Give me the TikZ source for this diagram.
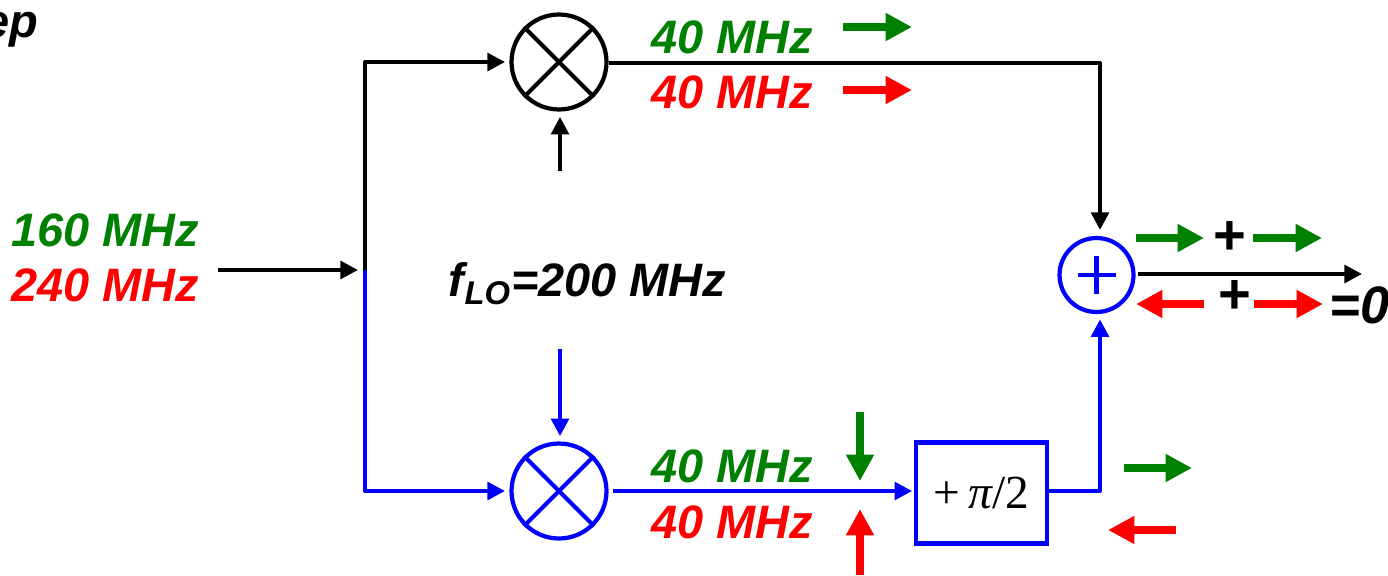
\documentclass[tikz,border=0pt]{standalone}
\usepackage{amsfonts, amssymb, amsmath}
\usepackage{fontspec}
\setmainfont{Liberation Sans}
\newfontfamily\shiftfont{Liberation Serif}
\usetikzlibrary{arrows.meta}

\definecolor{sigreen}{RGB}{0,128,0}
\tikzset{
    sigtext/.style={font=\fontsize{26.7}{30}\selectfont\bfseries\itshape, inner sep=0pt},
    plustext/.style={font=\fontsize{32}{32}\selectfont\bfseries, inner sep=0pt},
    wire/.style={line width=2.3pt, -{Triangle[length=10pt,width=10pt]}},
    blockarrow/.style={line width=4.4pt, -{Triangle[length=15pt,width=15pt]}},
    mixer/.style={circle, draw, line width=2.4pt, minimum size=1.9cm, inner sep=0pt},
}

\begin{document}
\begin{tikzpicture}[x=0.02cm,y=-0.02cm]
    \useasboundingbox (0,0) rectangle (1388,575);

    % mixers, adder and phase shifter
    \node [mixer] (mixa) at (559,62) {};
    \node [mixer, blue] (mixb) at (559,491) {};
    \node [mixer, blue, minimum size=1.48cm] (adder) at (1096.5,275) {};
    \node [draw=blue, line width=2.4pt, minimum width=2.62cm, minimum height=2.02cm, inner sep=0pt] (shift) at (981.5,493)
        {\fontsize{27}{27}\selectfont\shiftfont +\,{\itshape π}/2\hspace{3pt}};
    \draw [line width=2.3pt] (mixa.45) -- (mixa.225) (mixa.135) -- (mixa.315);
    \draw [blue, line width=2.3pt] (mixb.45) -- (mixb.225) (mixb.135) -- (mixb.315);
    \draw [blue, line width=2.6pt] (adder.center) ++(-19,0) -- ++(38,0) (adder.center) ++(0,-19) -- ++(0,38);

    % free ends and corners
    \coordinate (infeed) at (218,270);
    \coordinate (split) at (365,270);
    \coordinate (loup) at (560,171);
    \coordinate (lodown) at (560,349);
    \coordinate (sumout) at (1138,274);
    \coordinate (outend) at (1362,274);
    \coordinate (cornera) at (1100,63);
    \coordinate (cornerb) at (1100,491);

    % black paths
    \draw [wire, shorten >=4pt] (infeed) -- (split);
    \draw [wire, line join=round, shorten >=2.5pt] (split) |- (mixa);
    \draw [wire, shorten >=3pt] (loup) -- (loup |- mixa.south);
    \draw [wire, line join=round, shorten >=3.4pt] (mixa.east |- cornera) -- (cornera) -- (cornera |- adder.north);
    \draw [wire] (sumout) -- (outend);

    % blue paths
    \draw [wire, blue, line join=round, shorten >=2.5pt] (split) |- (mixb);
    \draw [wire, blue, shorten >=3pt] (lodown) -- (lodown |- mixb.north);
    \draw [wire, blue, shorten <=2.5pt, shorten >=1pt] (mixb.east) -- (mixb.east -| shift.west);
    \draw [wire, blue, line join=round, shorten >=3pt] (shift.east |- cornerb) -- (cornerb) -- (cornerb |- adder.south);

    % frequency labels
    \node [sigtext, anchor=east] (stepname) at (39,30) {ep};
    \node [sigtext, sigreen] (insig) at (105,230) {160 MHz};
    \node [sigtext, red] (inimg) at (105,285) {240 MHz};
    \node [sigtext] (loname) at (587.5,284) {f\textsubscript{LO}=200 MHz};
    \foreach \y/\c/\n in {37/sigreen/ga,92/red/ra,466/sigreen/gb,522/red/rb}
        \node [sigtext, \c] (mhz\n) at (732,\y) {40 MHz};
    \node [plustext] (plusa) at (1230,238) {+};
    \node [plustext] (plusb) at (1235,297) {+};
    \node [sigtext, anchor=west, font=\fontsize{30}{30}\selectfont\bfseries\itshape] (zero) at (1329,305) {=0};

    % phase arrows
    \foreach \xa/\ya/\xb/\yb/\c in {
        843/27/912/27/sigreen, 843/90/912/90/red,
        1136/238/1204/238/sigreen, 1253/238/1322/238/sigreen,
        1204/304/1136/304/red, 1254/304/1323/304/red,
        1124/468/1192/468/sigreen, 1176/530/1108/530/red,
        860/412/860/481/sigreen, 860/575/860/509/red}
        \draw [blockarrow, \c] (\xa,\ya) -- (\xb,\yb);
\end{tikzpicture}
\end{document}
